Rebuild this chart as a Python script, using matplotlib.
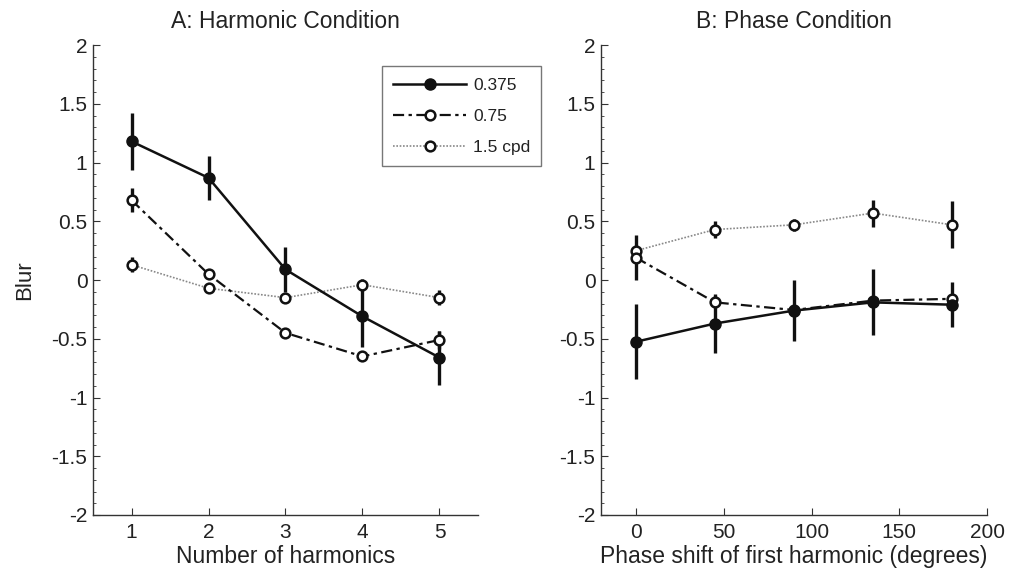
import matplotlib
matplotlib.use("Agg")
import matplotlib.pyplot as plt
from matplotlib.ticker import MultipleLocator, FixedLocator

plt.rcParams['font.family'] = ['Liberation Sans', 'DejaVu Sans']
plt.rcParams['axes.unicode_minus'] = False

# Panel A: harmonic condition
harmonics = [1, 2, 3, 4, 5]
a_0375 = [1.18, 0.87, 0.09, -0.31, -0.66]
a_0375_err = [0.245, 0.19, 0.19, 0.26, 0.23]
a_075 = [0.68, 0.05, -0.45, -0.65, -0.51]
a_075_err = [0.10, 0.03, 0.02, 0.02, 0.08]
a_15 = [0.13, -0.07, -0.15, -0.04, -0.15]
a_15_err = [0.065, 0.02, 0.02, 0.05, 0.065]

# Panel B: phase condition
phases = [0, 45, 90, 135, 180]
b_0375 = [-0.525, -0.37, -0.26, -0.19, -0.21]
b_0375_err = [0.32, 0.25, 0.26, 0.28, 0.19]
b_075 = [0.19, -0.19, -0.255, -0.175, -0.16]
b_075_err = [0.19, 0.05, 0.02, 0.02, 0.02]
b_15 = [0.25, 0.43, 0.47, 0.57, 0.47]
b_15_err = [0.05, 0.07, 0.05, 0.115, 0.20]

labels = ['0.375', '0.75', '1.5 cpd']

TXT = '#222222'
fig = plt.figure(figsize=(10.09, 5.78), dpi=100)
axA = fig.add_axes([0.0922, 0.109, 0.3815, 0.813])
axB = fig.add_axes([0.5956, 0.109, 0.3826, 0.813])

def draw(ax, x, s1, e1, s2, e2, s3, e3):
    # 1.5 cpd: dotted gray
    ax.errorbar(x, s3, yerr=e3, fmt='none', ecolor='#111111', elinewidth=2.4, capsize=0, zorder=2)
    ax.plot(x, s3, linestyle=(0, (1, 1)), color='#888888', lw=1.2, marker='o', ms=7,
            mfc='white', mec='#111111', mew=1.8, label=labels[2], zorder=3)
    # 0.75: dash-dot
    ax.errorbar(x, s2, yerr=e2, fmt='none', ecolor='#111111', elinewidth=2.4, capsize=0, zorder=2)
    ax.plot(x, s2, linestyle=(0, (5, 2, 1.5, 2)), color='#111111', lw=1.6, marker='o', ms=7,
            mfc='white', mec='#111111', mew=1.8, label=labels[1], zorder=4)
    # 0.375: solid filled
    ax.errorbar(x, s1, yerr=e1, fmt='none', ecolor='#111111', elinewidth=2.4, capsize=0, zorder=2)
    ax.plot(x, s1, linestyle='-', color='#111111', lw=1.8, marker='o', ms=8,
            mfc='#111111', mec='#111111', label=labels[0], zorder=5)

    ax.set_ylim(-2, 2)
    ax.yaxis.set_major_locator(MultipleLocator(0.5))
    ax.yaxis.set_minor_locator(MultipleLocator(0.1))
    ax.yaxis.set_major_formatter(plt.FuncFormatter(lambda v, p: ('%g' % v)))
    for sp in ['top', 'right']:
        ax.spines[sp].set_visible(False)
    for sp in ['left', 'bottom']:
        ax.spines[sp].set_color('#333333')
        ax.spines[sp].set_linewidth(1.0)
    ax.tick_params(which='both', direction='in', colors='#333333', labelcolor=TXT,
                   labelsize=15)
    ax.tick_params(axis='y', pad=4)
    ax.tick_params(axis='x', pad=6)
    ax.tick_params(which='major', length=5)
    ax.tick_params(which='minor', length=2.5)

draw(axA, harmonics, a_0375, a_0375_err, a_075, a_075_err, a_15, a_15_err)
axA.set_xlim(0.5, 5.5)
axA.xaxis.set_major_locator(FixedLocator(harmonics))
axA.set_xlabel('Number of harmonics', fontsize=16.5, color=TXT, labelpad=2)
axA.set_ylabel('Blur', fontsize=16, color=TXT, labelpad=12)
axA.set_title('A: Harmonic Condition', fontsize=16.5, color=TXT, pad=12)

h, l = axA.get_legend_handles_labels()
order = [l.index(x) for x in labels]
leg = axA.legend([h[i] for i in order], [l[i] for i in order], loc='upper right',
                 bbox_to_anchor=(1.165, 0.955), fontsize=12.5, frameon=True, fancybox=False,
                 edgecolor='#555555', handlelength=4.2, borderpad=0.65, labelspacing=0.92,
                 handletextpad=0.4, borderaxespad=0)
leg.get_frame().set_linewidth(1.0)
for t in leg.get_texts():
    t.set_color(TXT)

draw(axB, phases, b_0375, b_0375_err, b_075, b_075_err, b_15, b_15_err)
axB.set_xlim(-20, 200)
axB.xaxis.set_major_locator(MultipleLocator(50))
axB.set_xlabel('Phase shift of first harmonic (degrees)', fontsize=16.5, color=TXT, labelpad=2)
axB.set_title('B: Phase Condition', fontsize=16.5, color=TXT, pad=12)

fig.savefig('out.png', dpi=100)
